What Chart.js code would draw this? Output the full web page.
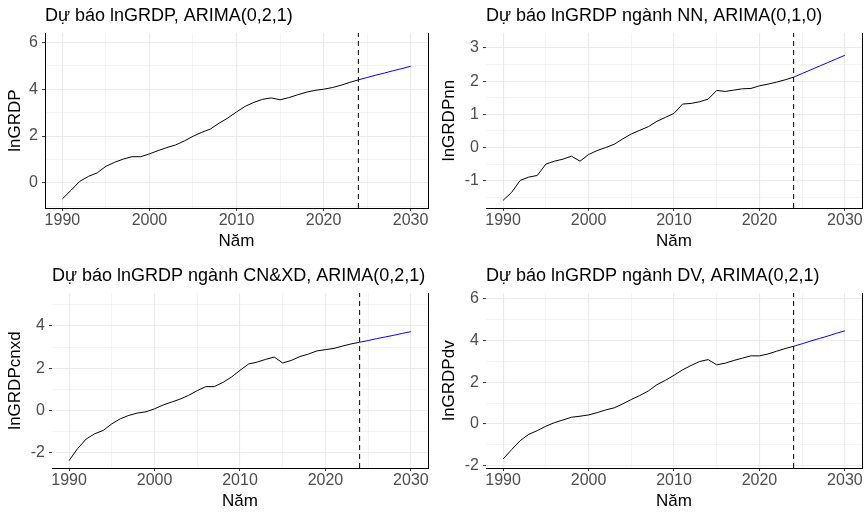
<!DOCTYPE html>
<html>
<head>
<meta charset="utf-8">
<script src="https://cdn.jsdelivr.net/npm/chart.js@4.4.0/dist/chart.umd.min.js"></script>
<style>
  html, body { margin: 0; padding: 0; background: #fff; }
  #wrap { position: relative; width: 868px; height: 520px; }
  #wrap canvas { position: absolute; }
</style>
</head>
<body>
<div id="wrap">
  <canvas id="c1" width="434" height="260" style="left:0;top:0"></canvas>
  <canvas id="c2" width="434" height="260" style="left:434px;top:0"></canvas>
  <canvas id="c3" width="434" height="260" style="left:0;top:260px"></canvas>
  <canvas id="c4" width="434" height="260" style="left:434px;top:260px"></canvas>
</div>
<script>
// năm quan sát và năm dự báo
const years = [1990, 1991, 1992, 1993, 1994, 1995, 1996, 1997, 1998, 1999,
  2000, 2001, 2002, 2003, 2004, 2005, 2006, 2007, 2008, 2009,
  2010, 2011, 2012, 2013, 2014, 2015, 2016, 2017, 2018, 2019,
  2020, 2021, 2022, 2023, 2024];
const forecastYears = [2024, 2025, 2026, 2027, 2028, 2029, 2030];
const cutYear = 2024;

// lnGRDP
const grdp = [-0.68, -0.31, 0.07, 0.28, 0.43, 0.71, 0.88, 1.02, 1.12, 1.12,
  1.24, 1.38, 1.51, 1.62, 1.79, 1.99, 2.16, 2.30, 2.55, 2.77,
  3.03, 3.27, 3.44, 3.57, 3.63, 3.55, 3.64, 3.76, 3.87, 3.95,
  4.00, 4.07, 4.17, 4.29, 4.40];
const grdpFc = [4.40, 4.50, 4.60, 4.69, 4.79, 4.88, 4.98];

// lnGRDP ngành NN
const grdpNN = [-1.59, -1.35, -0.99, -0.89, -0.84, -0.50, -0.41, -0.35, -0.26, -0.41,
  -0.21, -0.09, 0.00, 0.10, 0.26, 0.41, 0.52, 0.63, 0.79, 0.91,
  1.03, 1.31, 1.33, 1.38, 1.46, 1.72, 1.69, 1.73, 1.77, 1.78,
  1.86, 1.91, 1.97, 2.04, 2.12];
const grdpNNFc = [2.12, 2.23, 2.34, 2.45, 2.56, 2.67, 2.78];

// lnGRDP ngành CN&XD
const grdpCN = [-2.37, -1.80, -1.35, -1.10, -0.94, -0.63, -0.39, -0.23, -0.12, -0.06,
  0.08, 0.26, 0.40, 0.54, 0.72, 0.94, 1.13, 1.13, 1.33, 1.58,
  1.90, 2.20, 2.29, 2.42, 2.53, 2.25, 2.37, 2.55, 2.67, 2.82,
  2.88, 2.94, 3.05, 3.15, 3.23];
const grdpCNFc = [3.23, 3.31, 3.40, 3.48, 3.56, 3.65, 3.73];

// lnGRDP ngành DV
const grdpDV = [-1.68, -1.23, -0.80, -0.50, -0.32, -0.11, 0.06, 0.19, 0.32, 0.37,
  0.43, 0.54, 0.67, 0.77, 0.96, 1.17, 1.36, 1.58, 1.88, 2.09,
  2.33, 2.59, 2.80, 2.99, 3.08, 2.83, 2.91, 3.04, 3.15, 3.26,
  3.26, 3.35, 3.48, 3.61, 3.72];
const grdpDVFc = [3.72, 3.84, 3.97, 4.09, 4.21, 4.34, 4.46];

// trục
const xMajor = [1990, 2000, 2010, 2020, 2030];
const xMinor = [1995, 2005, 2015, 2025];
const yMajor1 = [0, 2, 4, 6];
const yMinor1 = [-1, 1, 3, 5];
const yMajor2 = [-1, 0, 1, 2, 3];
const yMinor2 = [-1.5, -0.5, 0.5, 1.5, 2.5];
const yMajor3 = [-2, 0, 2, 4];
const yMinor3 = [-1, 1, 3, 5];
const yMajor4 = [-2, 0, 2, 4, 6];
const yMinor4 = [-1, 1, 3, 5];

const FONT = '"Liberation Sans", Arial, sans-serif';

const panelTitle = {
  id: 'panelTitle',
  afterDraw(chart, args, opts) {
    const ctx = chart.ctx;
    ctx.save();
    ctx.font = '18px ' + FONT;
    ctx.fillStyle = '#000';
    ctx.textBaseline = 'alphabetic';
    ctx.textAlign = 'left';
    ctx.fillText(opts.text, chart.chartArea.left, 21);
    ctx.restore();
  }
};

function pts(xs, ys) {
  return xs.map((x, i) => ({ x: x, y: ys[i] }));
}

function gridOpts(major) {
  return {
    color: '#ebebeb',
    lineWidth: c => (c.tick && major.includes(c.tick.value)) ? 1.1 : 0.55,
    tickLength: 3,
    tickWidth: 1,
    tickColor: c => (c.tick && major.includes(c.tick.value)) ? '#333333' : 'rgba(0,0,0,0)'
  };
}

function drawPanel(id, p) {
  const yTicks = p.yMajor.concat(p.yMinor).sort((a, b) => a - b);
  const xTicks = xMajor.concat(xMinor).sort((a, b) => a - b);
  new Chart(document.getElementById(id), {
    type: 'line',
    data: {
      datasets: [
        { data: pts(years, p.hist), borderColor: '#000000', borderWidth: 1, pointRadius: 0, tension: 0 },
        { data: pts(forecastYears, p.fc), borderColor: '#0000ff', borderWidth: 1, pointRadius: 0, tension: 0 },
        { data: [{ x: cutYear, y: p.yMin }, { x: cutYear, y: p.yMax }],
          borderColor: '#000000', borderWidth: 1, borderDash: [5, 4], pointRadius: 0 }
      ]
    },
    options: {
      responsive: false,
      animation: false,
      events: [],
      layout: { padding: { left: 0, right: 6, top: 33, bottom: 0 } },
      plugins: {
        legend: { display: false },
        tooltip: { enabled: false },
        panelTitle: { text: p.title }
      },
      scales: {
        x: {
          type: 'linear',
          min: 1988,
          max: 2032,
          afterBuildTicks: s => { s.ticks = xTicks.map(v => ({ value: v })); },
          afterFit: s => { s.height = 52; },
          ticks: {
            callback: v => xMajor.includes(v) ? String(v) : '',
            autoSkip: false,
            maxRotation: 0,
            padding: 0,
            color: '#4d4d4d',
            font: { size: 16, family: FONT }
          },
          grid: gridOpts(xMajor),
          border: { display: true, color: '#000000', width: 1 },
          title: { display: true, text: 'Năm', color: '#000', font: { size: 17, family: FONT },
                   padding: { top: 0, bottom: 8 } }
        },
        y: {
          type: 'linear',
          min: p.yMin,
          max: p.yMax,
          afterBuildTicks: s => { s.ticks = yTicks.map(v => ({ value: v })); },
          afterFit: s => { s.width = p.yWidth; },
          ticks: {
            callback: v => p.yMajor.includes(v) ? String(v) : '',
            autoSkip: false,
            padding: 4,
            color: '#4d4d4d',
            font: { size: 16, family: FONT }
          },
          grid: gridOpts(p.yMajor),
          border: { display: p.leftLine, color: '#000000', width: 1 },
          title: { display: true, text: p.yTitle, color: '#000', font: { size: 17, family: FONT },
                   padding: { top: 5, bottom: 0 } }
        },
        y2: {
          type: 'linear',
          position: 'right',
          display: true,
          min: p.yMin,
          max: p.yMax,
          afterFit: s => { s.width = 0; },
          ticks: { display: false },
          grid: { drawOnChartArea: false, drawTicks: false },
          border: { display: true, color: '#000000', width: 1 }
        }
      }
    },
    plugins: [panelTitle]
  });
}

drawPanel('c1', { title: 'Dự báo lnGRDP, ARIMA(0,2,1)', yTitle: 'lnGRDP',
  hist: grdp, fc: grdpFc, yMin: -1.07, yMax: 6.40, yMajor: yMajor1, yMinor: yMinor1,
  yWidth: 45, leftLine: true });
drawPanel('c2', { title: 'Dự báo lnGRDP ngành NN, ARIMA(0,1,0)', yTitle: 'lnGRDPnn',
  hist: grdpNN, fc: grdpNNFc, yMin: -1.82, yMax: 3.45, yMajor: yMajor2, yMinor: yMinor2,
  yWidth: 52, leftLine: false });
drawPanel('c3', { title: 'Dự báo lnGRDP ngành CN&XD, ARIMA(0,2,1)', yTitle: 'lnGRDPcnxd',
  hist: grdpCN, fc: grdpCNFc, yMin: -2.72, yMax: 5.56, yMajor: yMajor3, yMinor: yMinor3,
  yWidth: 52, leftLine: false });
drawPanel('c4', { title: 'Dự báo lnGRDP ngành DV, ARIMA(0,2,1)', yTitle: 'lnGRDPdv',
  hist: grdpDV, fc: grdpDVFc, yMin: -2.11, yMax: 6.27, yMajor: yMajor4, yMinor: yMinor4,
  yWidth: 52, leftLine: false });
</script>
</body>
</html>
